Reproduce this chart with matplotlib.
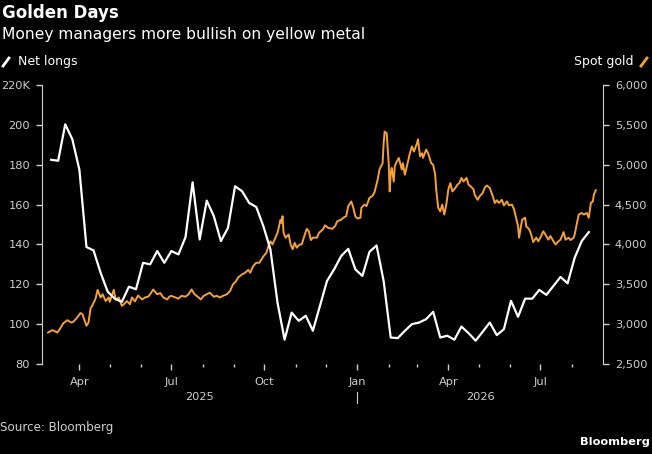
import matplotlib
matplotlib.use('Agg')
import matplotlib.pyplot as plt
import matplotlib.dates as mdates
from matplotlib.lines import Line2D
import matplotlib.transforms as mtransforms
import pandas as pd

# CFTC money manager net longs (thousands of contracts), weekly from 2025-03-04
net_longs = [182.5, 182, 200.3, 192.8, 177.5, 138.7, 137, 125.8, 116.3, 112.8,
             111.2, 118.8, 117.5, 130.8, 130, 136.7, 130.8, 136.7, 135, 143.7,
             171.2, 142.5, 162, 154.2, 141.7, 148.3, 169.2, 166.7, 160.8, 158.8,
             149.2, 137.5, 110.8, 92.2, 105.8, 101.7, 104.2, 96.7, 109.2, 121.7,
             127.5, 134.2, 137.8, 127.5, 124.2, 136.3, 139.5, 121.7, 93.3, 93,
             96.7, 100, 100.8, 102.5, 106.2, 93.3, 94.2, 92.2, 98.8, 95.5,
             91.7, 96.2, 100.8, 94.5, 97.5, 111.7, 103.7, 112.8, 112.8, 117.2,
             114.7, 119.2, 123.7, 120.5, 133.3, 141.7, 146.2]
net_start = '2025-03-04'

# spot gold ($/oz), days counted from 2025-03-01
gold_start = '2025-03-01'
gold_day = [0, 4, 7, 9, 12, 15, 19, 23, 25, 29, 32, 34, 38, 40, 42, 44, 47, 49, 52, 54,
            57, 60, 61, 65, 67, 70, 73, 75, 78, 81, 83, 86, 89, 93, 96, 99, 101, 104, 108, 111,
            114, 118, 120, 122, 126, 129, 132, 136, 139, 142, 145, 149, 151, 154, 157, 160, 164, 167, 170, 173,
            177, 180, 183, 186, 188, 192, 195, 198, 200, 203, 206, 209, 213, 216, 218, 220, 222, 225, 227, 230,
            231, 232, 233, 235, 238, 240, 242, 244, 246, 249, 251, 254, 256, 258, 260, 262, 266, 268, 272, 274,
            277, 281, 284, 286, 290, 292, 295, 297, 300, 302, 304, 306, 309, 310, 313, 315, 318, 321, 323, 326,
            328, 331, 332, 333, 335, 337, 338, 339, 340, 342, 343, 345, 347, 350, 351, 353, 355, 358, 360, 362,
            365, 366, 368, 370, 371, 374, 376, 379, 381, 383, 384, 386, 388, 390, 392, 394, 396, 398, 400, 403,
            405, 407, 409, 411, 414, 416, 418, 421, 422, 425, 427, 430, 432, 434, 437, 440, 442, 444, 446, 449,
            451, 454, 456, 459, 461, 463, 465, 466, 468, 469, 472, 473, 476, 478, 480, 483, 485, 487, 490, 492,
            495, 497, 500, 502, 505, 507, 510, 512, 515, 517, 520, 521, 523, 525, 528, 530, 533, 535, 537, 539,
            540, 542]
gold_price = [2895, 2925, 2910, 2895, 2945, 3010, 3050, 3020, 3030, 3085, 3140, 3125, 2980, 3020, 3195, 3240, 3320, 3430, 3335, 3375,
              3290, 3335, 3280, 3430, 3305, 3335, 3230, 3250, 3290, 3250, 3335, 3285, 3360, 3310, 3335, 3345, 3375, 3435, 3375, 3390,
              3335, 3310, 3345, 3355, 3335, 3320, 3355, 3345, 3375, 3435, 3375, 3335, 3310, 3355, 3375, 3395, 3345, 3355, 3335, 3355,
              3375, 3415, 3500, 3540, 3585, 3625, 3645, 3680, 3645, 3730, 3770, 3770, 3850, 3895, 3980, 4040, 4000, 4085, 4145, 4310,
              4270, 4355, 4145, 4085, 4125, 4000, 3940, 4020, 3960, 4000, 4000, 4125, 4195, 4165, 4055, 4085, 4085, 4145, 4190, 4240,
              4210, 4195, 4230, 4290, 4310, 4335, 4355, 4480, 4540, 4460, 4355, 4325, 4335, 4460, 4500, 4480, 4585, 4610, 4655, 4810,
              4945, 5020, 5270, 5415, 5395, 5020, 4665, 4895, 4960, 4790, 4980, 5040, 5085, 4940, 5020, 4875, 4980, 5145, 5230, 5165,
              5270, 5320, 5105, 5145, 5085, 5190, 5145, 5020, 5000, 4875, 4690, 4460, 4415, 4500, 4375, 4500, 4690, 4770, 4665, 4710,
              4750, 4770, 4835, 4790, 4835, 4750, 4730, 4690, 4625, 4560, 4605, 4645, 4710, 4740, 4710, 4605, 4520, 4555, 4520, 4560,
              4490, 4540, 4490, 4500, 4440, 4335, 4230, 4085, 4230, 4310, 4335, 4230, 4190, 4125, 4030, 4085, 4040, 4085, 4165, 4125,
              4060, 4105, 4040, 4000, 4040, 4060, 4155, 4060, 4085, 4055, 4085, 4125, 4250, 4375, 4395, 4375, 4395, 4335, 4520, 4540,
              4625, 4680]

left_ticks = [80, 100, 120, 140, 160, 180, 200, 220]
left_labels = ['80', '100', '120', '140', '160', '180', '200', '220K']
right_ticks = [2500, 3000, 3500, 4000, 4500, 5000, 5500, 6000]
right_labels = ['2,500', '3,000', '3,500', '4,000', '4,500', '5,000', '5,500', '6,000']

ORANGE = '#f6a133'
GREY = '#cfcfcf'

net_dates = pd.date_range(net_start, periods=len(net_longs), freq='7D')
gold_dates = pd.Timestamp(gold_start) + pd.to_timedelta(gold_day, unit='D')

plt.rcParams['font.family'] = ['DejaVu Sans']
fig = plt.figure(figsize=(6.52, 4.54), dpi=100, facecolor='black')
ax = fig.add_axes([0.0644, 0.1982, 0.8604, 0.6145])
ax.set_facecolor('black')
ax2 = ax.twinx()

ax.plot(net_dates, net_longs, color='white', lw=1.6, zorder=3)
ax2.plot(gold_dates, gold_price, color=ORANGE, lw=1.4, zorder=2)
# white line drawn above gold
ax.set_zorder(ax2.get_zorder() + 1)
ax.patch.set_visible(False)
ax2.patch.set_facecolor('black')
ax2.patch.set_visible(True)

ax.set_ylim(80, 220)
ax2.set_ylim(2500, 6000)
ax.set_xlim(pd.Timestamp('2025-02-23'), pd.Timestamp('2026-09-01'))

ax.set_yticks(left_ticks)
ax.set_yticklabels(left_labels)
ax2.set_yticks(right_ticks)
ax2.set_yticklabels(right_labels)

for a in (ax, ax2):
    for s in ('top', 'bottom'):
        a.spines[s].set_visible(False)
    a.tick_params(axis='y', colors=GREY, labelsize=8.2, length=4.5, width=1, pad=4, direction='out')
ax.spines['right'].set_visible(False)
ax2.spines['left'].set_visible(False)
ax.spines['left'].set_color(GREY)
ax2.spines['right'].set_color(GREY)

ax.xaxis.set_major_locator(mdates.MonthLocator(bymonth=[1, 4, 7, 10]))
ax.xaxis.set_major_formatter(mdates.DateFormatter('%b'))
minor_months = pd.date_range('2025-04-01', '2026-08-01', freq='MS')
ax.set_xticks(minor_months, minor=True)
ax.tick_params(axis='x', which='major', colors=GREY, labelsize=8.2, length=4.5, width=1, pad=4.5)
ax.tick_params(axis='x', which='minor', colors=GREY, length=2.5, width=1)

# year labels under the months
trans = mtransforms.blended_transform_factory(ax.transData, ax.transAxes)
x0, x1 = ax.get_xlim()
jan = mdates.date2num(pd.Timestamp('2026-01-01'))
ax.text((x0 + jan) / 2, -0.117, '2025', transform=trans, ha='center', va='center',
        color=GREY, fontsize=8.2)
ax.text((jan + x1) / 2, -0.117, '2026', transform=trans, ha='center', va='center',
        color=GREY, fontsize=8.2)
ax.add_line(Line2D([jan, jan], [-0.1, -0.14], transform=trans, color=GREY, lw=0.8,
                   clip_on=False))

# titles
fig.text(0.003, 0.971, 'Golden Days', color='white', fontsize=12, fontweight='bold', va='center')
fig.text(0.003, 0.925, 'Money managers more bullish on yellow metal', color='white', fontsize=11.2,
         va='center')

# legend
fig.add_artist(Line2D([3 / 652, 9 / 652], [1 - 66 / 454, 1 - 58 / 454], transform=fig.transFigure,
                      color='white', lw=2))
fig.text(18 / 652, 1 - 62 / 454, 'Net longs', color='white', fontsize=9, va='center')
fig.add_artist(Line2D([641 / 652, 647 / 652], [1 - 66 / 454, 1 - 58 / 454], transform=fig.transFigure,
                      color=ORANGE, lw=2))
fig.text(633 / 652, 1 - 62 / 454, 'Spot gold', color='white', fontsize=9, va='center', ha='right')

# footer
fig.text(0.0, 1 - 427 / 454, 'Source: Bloomberg', color=GREY, fontsize=8.6, va='center')
fig.text(0.997, 1 - 442 / 454, 'Bloomberg', color='white', fontsize=8.2, fontweight='bold',
         va='center', ha='right')

fig.savefig('out.png', dpi=100, facecolor='black')
